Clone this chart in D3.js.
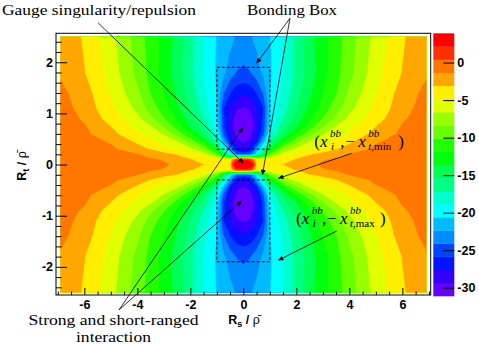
<!DOCTYPE html>
<html>
<head>
<meta charset="utf-8">
<script src="https://cdn.jsdelivr.net/npm/d3@7"></script>
<style>
  body { margin: 0; background: #fff; }
  svg { display: block; }
</style>
</head>
<body>
<div id="chart"></div>
<script>
// --- data (the field is mirror symmetric in R_s and R_t) ---
const xHalf = [0, 0.25, 0.4, 0.5, 0.75, 1, 1.5, 2, 2.5, 3, 3.5, 4, 5, 6, 6.9];
const yHalf = [0, 0.1, 0.2, 0.3, 0.45, 0.6, 0.75, 0.9, 1.1, 1.4, 1.8, 2.2, 2.5];
// one row per yHalf value, one column per xHalf value
const zQuarter = [
  [  3.9,   3.6,   2.0,  -4.0,  -4.1,  -3.7,  -3.1,  -2.4,  -1.65, -1.15, -1.05, -0.95, -0.75, -0.55, -0.3],
  [  2.0,   1.6,  -1.5,  -4.7,  -4.7,  -4.5,  -3.7,  -3.0,  -2.0,  -1.45, -1.2,  -1.1,  -0.85, -0.6,  -0.3],
  [-25.0, -24.5, -22.0, -19.5, -14.5,  -9.5,  -5.7,  -4.3,  -3.25, -2.6,  -1.9,  -1.3,  -0.95, -0.6,  -0.2],
  [-27.9, -26.9, -24.5, -22.35,-17.9, -13.3,  -8.2,  -6.05, -5.0,  -4.08, -3.2,  -2.38, -1.0,  -0.45,  0.0],
  [-29.6, -28.9, -27.6, -26.8, -21.65,-17.1, -12.25, -8.9,  -6.5,  -5.53, -4.53, -3.45, -1.55, -0.7,  -0.1],
  [-30.6, -29.9, -28.6, -27.6, -24.6, -19.1, -15.0, -11.75, -9.1,  -6.75, -5.7,  -4.7,  -2.5,  -1.0,  -0.2],
  [-31.0, -30.4, -29.3, -28.2, -25.5, -19.8, -16.0, -13.85,-10.9,  -8.6,  -6.5,  -5.3,  -3.15, -1.2,  -0.3],
  [-30.8, -30.2, -29.1, -27.9, -25.5, -20.15,-17.2, -14.6, -12.2, -10.0,  -7.95, -6.15, -3.9,  -1.6,  -0.4],
  [-29.6, -29.1, -28.3, -27.6, -25.85,-20.7, -17.9, -15.45,-13.15,-11.05, -9.1,  -7.1,  -4.35, -2.1,  -0.5],
  [-27.3, -26.9, -26.3, -25.8, -24.0, -20.7, -18.5, -16.2, -13.9, -11.8, -10.2,  -8.0,  -5.0,  -2.3,  -0.9],
  [-24.4, -24.2, -23.6, -23.2, -22.0, -20.85,-19.0, -16.7, -14.55,-12.6, -10.7,  -8.9,  -5.55, -3.05, -1.6],
  [-23.6, -23.2, -22.7, -22.4, -21.6, -20.8, -18.9, -16.6, -14.4, -12.5, -10.8,  -9.05, -5.8,  -3.2,  -1.8],
  [-23.0, -22.6, -22.1, -21.8, -21.2, -20.7, -18.8, -16.5, -14.2, -12.4, -10.9,  -9.2,  -6.0,  -3.3,  -1.9]
];
const zMin = -31.1, zMax = 3.9, nLevels = 20;
const xTicks = [-6, -4, -2, 0, 2, 4, 6];
const yTicks = [-2, -1, 0, 1, 2];
const zTicks = [0, -5, -10, -15, -20, -25, -30];
// bonding boxes [xmin, xmax, ymin, ymax]
const boxes = [[-1, 1, 0.3, 1.9], [-1, 1, -1.9, -0.3]];
// arrows [x1, y1, x2, y2] in data units
const arrows = [
  [-5.48, 2.77, 0.0, 0.03],
  [1.76, 2.86, 0.5, 1.98],
  [1.76, 2.86, 0.72, -0.2],
  [-4.69, -2.84, -0.02, 0.72],
  [-4.69, -2.84, -0.06, -0.71],
  [4.09, 0.22, 1.32, -0.27],
  [3.52, -1.3, 1.32, -1.87]
];

// --- layout ---
const W = 479, H = 344;
const frame = { left: 56, right: 430.7, top: 33.3, bottom: 295 };
const bar = { left: 433.3, right: 454.3, top: 33.3, bottom: 296 };
const sans = "'Liberation Sans', Arial, Helvetica, sans-serif";
const serif = "'Liberation Serif', 'DejaVu Serif', serif";

const x = d3.scaleLinear().domain([-7.07, 7.07]).range([frame.left, frame.right]);
const y = d3.scaleLinear().domain([-2.55, 2.566]).range([frame.bottom, frame.top]);

// ROOT "pretty" palette: 50 hues 280 -> 0
const palette = d3.range(50).map(i => d3.hsl(280 - (i + 1) * 5.6, 1, 0.5).formatHex());
const bandColor = i => palette[Math.floor((i + 0.99) * 50 / nLevels)];
const levels = d3.range(nLevels + 1).map(i => zMin + i * (zMax - zMin) / nLevels);

// full grid from the quarter
const xsFull = xHalf.slice(1).reverse().map(v => -v).concat(xHalf);
const ysFull = yHalf.slice().reverse().concat(yHalf.slice(1).map(v => -v));
const nx = xsFull.length, ny = ysFull.length;
const values = [];
ysFull.forEach(yv => {
  const row = zQuarter[yHalf.indexOf(Math.abs(yv))];
  xsFull.forEach(xv => values.push(row[xHalf.indexOf(Math.abs(xv))]));
});

const svg = d3.select("#chart").append("svg")
  .attr("width", W).attr("height", H)
  .style("background", "#fff");

// --- contours ---
const gx = d3.scaleLinear().domain(d3.range(nx)).range(xsFull).clamp(true);
const gy = d3.scaleLinear().domain(d3.range(ny)).range(ysFull).clamp(true);
const proj = d3.geoTransform({
  point(px, py) { this.stream.point(x(gx(px - 0.5)), y(gy(py - 0.5))); }
});
const path = d3.geoPath(proj);

const contours = d3.contours().size([nx, ny]).thresholds(levels.slice(0, nLevels))(values);

svg.append("g")
  .selectAll("path")
  .data(contours)
  .join("path")
  .attr("d", path)
  .attr("fill", (d, i) => bandColor(i))
  .attr("stroke", (d, i) => bandColor(i))
  .attr("stroke-width", 0.3);

// --- frame ---
svg.append("rect")
  .attr("x", frame.left).attr("y", frame.top)
  .attr("width", frame.right - frame.left).attr("height", frame.bottom - frame.top)
  .attr("fill", "none").attr("stroke", "#000").attr("stroke-width", 1);

// --- axes ---
function styleAxis(g, size) {
  g.attr("font-family", sans).attr("font-size", size).attr("font-weight", "bold");
  g.select(".domain").remove();
  g.selectAll("line").attr("stroke", "#000");
  g.selectAll("text").attr("fill", "#000");
}

const xMinor = d3.range(-14, 15).map(i => i / 2).filter(v => v % 2 !== 0);
svg.append("g").attr("transform", `translate(0,${frame.bottom})`)
  .call(d3.axisBottom(x).tickValues(xMinor).tickSize(-3.5).tickFormat(""))
  .call(g => styleAxis(g, 12));
svg.append("g").attr("transform", `translate(0,${frame.bottom})`)
  .call(d3.axisBottom(x).tickValues(xTicks).tickSize(-7).tickPadding(5.5).tickFormat(d => String(d)))
  .call(g => styleAxis(g, 12.5));

const yMinor = d3.range(-12, 13).map(i => i / 5).filter(v => !Number.isInteger(v));
svg.append("g").attr("transform", `translate(${frame.left},0)`)
  .call(d3.axisLeft(y).tickValues(yMinor).tickSize(-5.5).tickFormat(""))
  .call(g => styleAxis(g, 12));
svg.append("g").attr("transform", `translate(${frame.left},0)`)
  .call(d3.axisLeft(y).tickValues(yTicks).tickSize(-11).tickPadding(3).tickFormat(d => String(d)))
  .call(g => styleAxis(g, 12.5));

// axis titles
const xTitle = svg.append("text")
  .attr("x", 244).attr("y", 324)
  .attr("text-anchor", "middle")
  .attr("font-family", sans).attr("font-size", 12.5).attr("font-weight", "bold");
xTitle.append("tspan").text("R");
xTitle.append("tspan").attr("font-size", 9).attr("dy", 3).text("s");
xTitle.append("tspan").attr("dy", -3).text(" / ");
xTitle.append("tspan").attr("font-weight", "normal").text("ρ\u0304");

const yTitle = svg.append("text")
  .attr("transform", "translate(25.5,166) rotate(-90)")
  .attr("text-anchor", "middle")
  .attr("font-family", sans).attr("font-size", 12.5).attr("font-weight", "bold");
yTitle.append("tspan").text("R");
yTitle.append("tspan").attr("font-size", 9).attr("dy", 3).text("t");
yTitle.append("tspan").attr("dy", -3).text(" / ");
yTitle.append("tspan").attr("font-weight", "normal").text("ρ\u0304");

// --- colour bar ---
const z = d3.scaleLinear().domain([zMin, zMax]).range([bar.bottom, bar.top]);
svg.append("g")
  .selectAll("rect")
  .data(d3.range(nLevels))
  .join("rect")
  .attr("x", bar.left)
  .attr("width", bar.right - bar.left)
  .attr("y", i => z(levels[i + 1]))
  .attr("height", i => z(levels[i]) - z(levels[i + 1]) + 0.3)
  .attr("fill", i => bandColor(i));

svg.append("g").attr("transform", `translate(${bar.right},0)`)
  .call(d3.axisRight(z).tickValues(zTicks).tickSize(-11).tickPadding(3).tickFormat(d => String(d)))
  .call(g => styleAxis(g, 12.5));

// --- annotations ---
svg.append("g")
  .selectAll("rect")
  .data(boxes)
  .join("rect")
  .attr("x", d => x(d[0]))
  .attr("y", d => y(d[3]))
  .attr("width", d => x(d[1]) - x(d[0]))
  .attr("height", d => y(d[2]) - y(d[3]))
  .attr("fill", "none")
  .attr("stroke", "#000")
  .attr("stroke-width", 1)
  .attr("stroke-dasharray", "3,2");

svg.append("defs").append("marker")
  .attr("id", "head")
  .attr("viewBox", "0 0 10 10")
  .attr("refX", 10).attr("refY", 5)
  .attr("markerUnits", "userSpaceOnUse")
  .attr("markerWidth", 7).attr("markerHeight", 5)
  .attr("orient", "auto")
  .append("path")
  .attr("d", "M0,0L10,5L0,10z")
  .attr("fill", "#000");

svg.append("g")
  .selectAll("line")
  .data(arrows)
  .join("line")
  .attr("x1", d => x(d[0])).attr("y1", d => y(d[1]))
  .attr("x2", d => x(d[2])).attr("y2", d => y(d[3]))
  .attr("stroke", "#000")
  .attr("stroke-width", 0.8)
  .attr("marker-end", "url(#head)");

function note(tx, ty, len, str) {
  svg.append("text")
    .attr("x", tx).attr("y", ty)
    .attr("font-family", serif).attr("font-size", 14)
    .attr("textLength", len).attr("lengthAdjust", "spacingAndGlyphs")
    .attr("fill", "#000")
    .text(str);
}
note(2, 15, 194, "Gauge singularity/repulsion");
note(247, 15, 90, "Bonding Box");
note(28.5, 324.5, 170, "Strong and short-ranged");
note(76, 342, 75, "interaction");

function coordLabel(x0, yb, sub) {
  const g = svg.append("g").attr("font-family", serif).attr("fill", "#000");
  const put = (dx, dy, size, str, italic) =>
    g.append("text").attr("x", x0 + dx).attr("y", yb + dy)
      .attr("font-size", size).attr("font-style", italic ? "italic" : "normal").text(str);
  put(0, 0, 17, "(", false);
  put(5.7, 0, 17, "x", true);
  put(15.7, -10, 11, "bb", true);
  put(16.7, 3.5, 11, "i", true);
  put(26, 0, 17, ",", false);
  put(31, 0, 17, "\u2212", false);
  put(44, 0, 17, "x", true);
  put(54, -10, 11, "bb", true);
  const s = g.append("text").attr("x", x0 + 54).attr("y", yb + 3.5).attr("font-size", 11);
  s.append("tspan").attr("font-style", "italic").text("t");
  s.append("tspan").text("," + sub);
  put(84, 0, 17, ")", false);
}
coordLabel(314.3, 146.5, "min");
coordLabel(296, 223.5, "max");
</script>
</body>
</html>
